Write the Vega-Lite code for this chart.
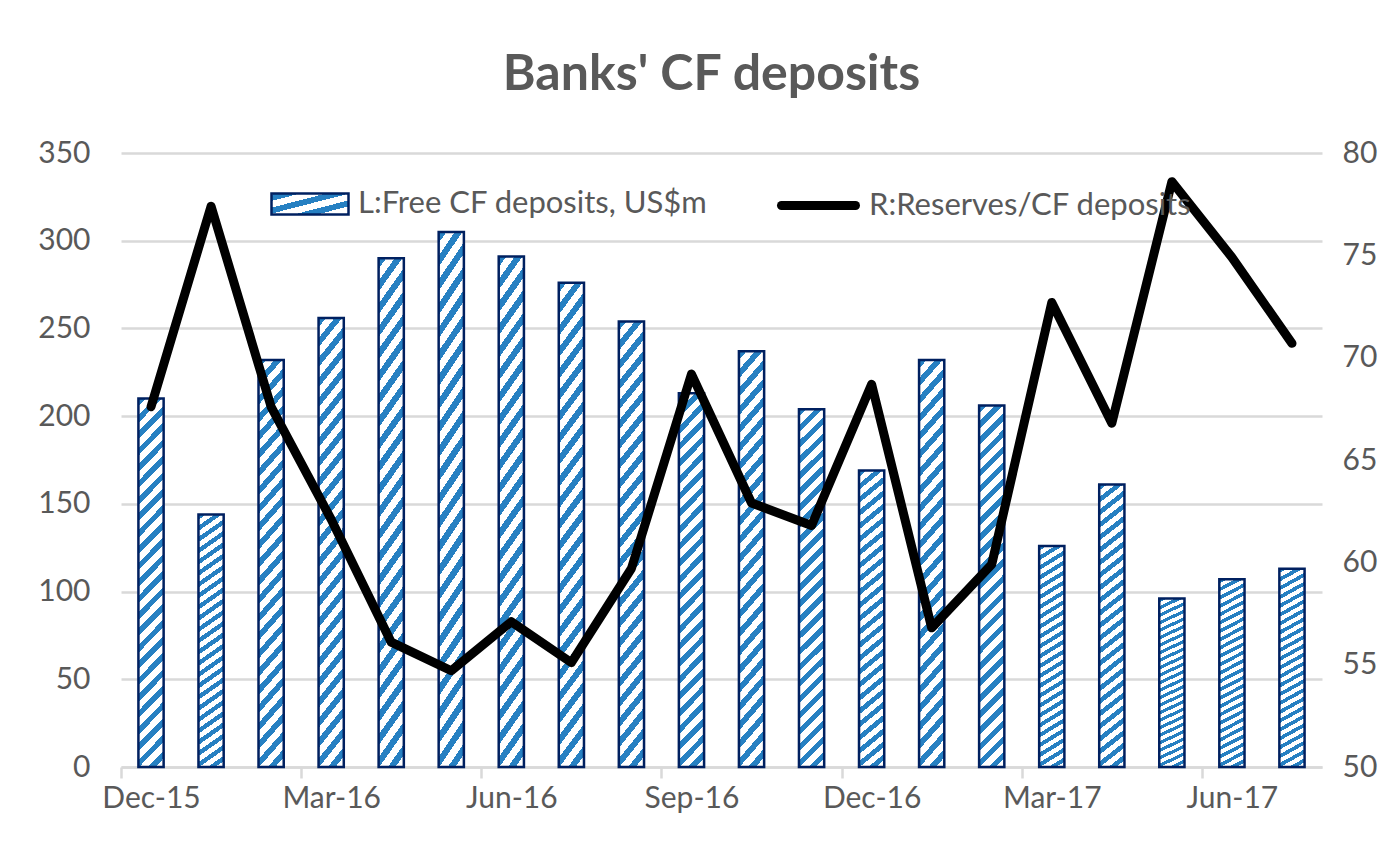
{
  "$schema": "https://vega.github.io/schema/vega-lite/v6.json",
  "width": 1201,
  "height": 614,
  "autosize": {"type": "none"},
  "padding": {"left": 121, "top": 153, "right": 75, "bottom": 76},
  "background": "white",
  "title": {
    "text": "Banks' CF deposits",
    "font": "Lato",
    "fontSize": 50,
    "fontWeight": "bold",
    "color": "#595959",
    "anchor": "middle",
    "offset": 38,
    "dx": -10
  },
  "config": {
    "view": {"stroke": null},
    "font": "Lato",
    "axis": {"labelFont": "Lato", "labelFontSize": 30, "labelColor": "#595959", "title": null}
  },
  "data": {
    "values": [
      {"month": "Dec-15", "free": 210, "ratio": 67.6},
      {"month": "Jan-16", "free": 144, "ratio": 77.4},
      {"month": "Feb-16", "free": 232, "ratio": 67.6},
      {"month": "Mar-16", "free": 256, "ratio": 62.1},
      {"month": "Apr-16", "free": 290, "ratio": 56.1},
      {"month": "May-16", "free": 305, "ratio": 54.7},
      {"month": "Jun-16", "free": 291, "ratio": 57.1},
      {"month": "Jul-16", "free": 276, "ratio": 55.1},
      {"month": "Aug-16", "free": 254, "ratio": 59.7},
      {"month": "Sep-16", "free": 213, "ratio": 69.2},
      {"month": "Oct-16", "free": 237, "ratio": 62.9},
      {"month": "Nov-16", "free": 204, "ratio": 61.8},
      {"month": "Dec-16", "free": 169, "ratio": 68.7},
      {"month": "Jan-17", "free": 232, "ratio": 56.8},
      {"month": "Feb-17", "free": 206, "ratio": 59.9},
      {"month": "Mar-17", "free": 126, "ratio": 72.7},
      {"month": "Apr-17", "free": 161, "ratio": 66.8},
      {"month": "May-17", "free": 96, "ratio": 78.6},
      {"month": "Jun-17", "free": 107, "ratio": 74.9},
      {"month": "Jul-17", "free": 113, "ratio": 70.7}
    ]
  },
  "layer": [
    {
      "mark": {
        "type": "bar",
        "strokeWidth": 2.5,
        "fill": {
          "gradient": "linear",
          "x1": 1, "y1": 1, "x2": 0.9255, "y2": -0.0648,
          "stops": [
            {"offset": 0, "color": "#ffffff"}, {"offset": 0.022, "color": "#ffffff"}, {"offset": 0.022, "color": "#2680C2"}, {"offset": 0.0417, "color": "#2680C2"},
            {"offset": 0.0417, "color": "#ffffff"}, {"offset": 0.0637, "color": "#ffffff"}, {"offset": 0.0637, "color": "#2680C2"}, {"offset": 0.0833, "color": "#2680C2"},
            {"offset": 0.0833, "color": "#ffffff"}, {"offset": 0.1053, "color": "#ffffff"}, {"offset": 0.1053, "color": "#2680C2"}, {"offset": 0.125, "color": "#2680C2"},
            {"offset": 0.125, "color": "#ffffff"}, {"offset": 0.147, "color": "#ffffff"}, {"offset": 0.147, "color": "#2680C2"}, {"offset": 0.1667, "color": "#2680C2"},
            {"offset": 0.1667, "color": "#ffffff"}, {"offset": 0.1887, "color": "#ffffff"}, {"offset": 0.1887, "color": "#2680C2"}, {"offset": 0.2083, "color": "#2680C2"},
            {"offset": 0.2083, "color": "#ffffff"}, {"offset": 0.2303, "color": "#ffffff"}, {"offset": 0.2303, "color": "#2680C2"}, {"offset": 0.25, "color": "#2680C2"},
            {"offset": 0.25, "color": "#ffffff"}, {"offset": 0.272, "color": "#ffffff"}, {"offset": 0.272, "color": "#2680C2"}, {"offset": 0.2917, "color": "#2680C2"},
            {"offset": 0.2917, "color": "#ffffff"}, {"offset": 0.3137, "color": "#ffffff"}, {"offset": 0.3137, "color": "#2680C2"}, {"offset": 0.3333, "color": "#2680C2"},
            {"offset": 0.3333, "color": "#ffffff"}, {"offset": 0.3553, "color": "#ffffff"}, {"offset": 0.3553, "color": "#2680C2"}, {"offset": 0.375, "color": "#2680C2"},
            {"offset": 0.375, "color": "#ffffff"}, {"offset": 0.397, "color": "#ffffff"}, {"offset": 0.397, "color": "#2680C2"}, {"offset": 0.4167, "color": "#2680C2"},
            {"offset": 0.4167, "color": "#ffffff"}, {"offset": 0.4387, "color": "#ffffff"}, {"offset": 0.4387, "color": "#2680C2"}, {"offset": 0.4583, "color": "#2680C2"},
            {"offset": 0.4583, "color": "#ffffff"}, {"offset": 0.4803, "color": "#ffffff"}, {"offset": 0.4803, "color": "#2680C2"}, {"offset": 0.5, "color": "#2680C2"},
            {"offset": 0.5, "color": "#ffffff"}, {"offset": 0.522, "color": "#ffffff"}, {"offset": 0.522, "color": "#2680C2"}, {"offset": 0.5417, "color": "#2680C2"},
            {"offset": 0.5417, "color": "#ffffff"}, {"offset": 0.5637, "color": "#ffffff"}, {"offset": 0.5637, "color": "#2680C2"}, {"offset": 0.5833, "color": "#2680C2"},
            {"offset": 0.5833, "color": "#ffffff"}, {"offset": 0.6053, "color": "#ffffff"}, {"offset": 0.6053, "color": "#2680C2"}, {"offset": 0.625, "color": "#2680C2"},
            {"offset": 0.625, "color": "#ffffff"}, {"offset": 0.647, "color": "#ffffff"}, {"offset": 0.647, "color": "#2680C2"}, {"offset": 0.6667, "color": "#2680C2"},
            {"offset": 0.6667, "color": "#ffffff"}, {"offset": 0.6887, "color": "#ffffff"}, {"offset": 0.6887, "color": "#2680C2"}, {"offset": 0.7083, "color": "#2680C2"},
            {"offset": 0.7083, "color": "#ffffff"}, {"offset": 0.7303, "color": "#ffffff"}, {"offset": 0.7303, "color": "#2680C2"}, {"offset": 0.75, "color": "#2680C2"},
            {"offset": 0.75, "color": "#ffffff"}, {"offset": 0.772, "color": "#ffffff"}, {"offset": 0.772, "color": "#2680C2"}, {"offset": 0.7917, "color": "#2680C2"},
            {"offset": 0.7917, "color": "#ffffff"}, {"offset": 0.8137, "color": "#ffffff"}, {"offset": 0.8137, "color": "#2680C2"}, {"offset": 0.8333, "color": "#2680C2"},
            {"offset": 0.8333, "color": "#ffffff"}, {"offset": 0.8553, "color": "#ffffff"}, {"offset": 0.8553, "color": "#2680C2"}, {"offset": 0.875, "color": "#2680C2"},
            {"offset": 0.875, "color": "#ffffff"}, {"offset": 0.897, "color": "#ffffff"}, {"offset": 0.897, "color": "#2680C2"}, {"offset": 0.9167, "color": "#2680C2"},
            {"offset": 0.9167, "color": "#ffffff"}, {"offset": 0.9387, "color": "#ffffff"}, {"offset": 0.9387, "color": "#2680C2"}, {"offset": 0.9583, "color": "#2680C2"},
            {"offset": 0.9583, "color": "#ffffff"}, {"offset": 0.9803, "color": "#ffffff"}, {"offset": 0.9803, "color": "#2680C2"}, {"offset": 1, "color": "#2680C2"}
          ]
        }
      },
      "encoding": {
        "x": {
          "field": "month",
          "type": "ordinal",
          "sort": null,
          "scale": {"paddingInner": 0.58, "paddingOuter": 0.29},
          "axis": {
            "title": null,
            "values": ["Dec-15", "Mar-16", "Jun-16", "Sep-16", "Dec-16", "Mar-17", "Jun-17"],
            "labelAngle": 0,
            "tickOffset": -30,
            "labelOffset": 30,
            "domainColor": "#D9D9D9",
            "domainWidth": 2.5,
            "tickColor": "#D9D9D9",
            "tickWidth": 2.5,
            "tickSize": 11,
            "labelPadding": 5,
            "grid": false
          }
        },
        "y": {
          "field": "free",
          "type": "quantitative",
          "scale": {"domain": [0, 350], "nice": false},
          "axis": {
            "title": null,
            "values": [0, 50, 100, 150, 200, 250, 300, 350],
            "grid": true,
            "gridColor": "#D9D9D9",
            "gridWidth": 2.5,
            "domain": false,
            "ticks": false,
            "labelPadding": 31
          }
        },
        "stroke": {
          "datum": "L:Free CF deposits, US$m",
          "scale": {"domain": ["L:Free CF deposits, US$m"], "range": ["#002060"]},
          "legend": {
            "orient": "none",
            "legendX": 149,
            "legendY": 11,
            "title": null,
            "padding": 0,
            "labelFont": "Lato",
            "labelFontSize": 31,
            "labelColor": "#595959",
            "labelLimit": 0,
            "labelOffset": 8,
            "symbolType": "M-1,-0.27H1V0.27H-1Z",
            "symbolSize": 5929,
            "symbolStrokeWidth": 2.5,
            "symbolStrokeColor": "#002060",
            "encode": {
              "symbols": {
                "update": {
                  "stroke": {"value": "#002060"},
                  "strokeWidth": {"value": 2.5},
                  "fill": {"value": {
                    "gradient": "linear",
                    "x1": 1, "y1": 1, "x2": -0.184, "y2": 0.677,
                    "stops": [
                      {"offset": 0, "color": "#ffffff"}, {"offset": 0.11, "color": "#ffffff"}, {"offset": 0.11, "color": "#2680C2"}, {"offset": 0.2, "color": "#2680C2"},
                      {"offset": 0.2, "color": "#ffffff"}, {"offset": 0.31, "color": "#ffffff"}, {"offset": 0.31, "color": "#2680C2"}, {"offset": 0.4, "color": "#2680C2"},
                      {"offset": 0.4, "color": "#ffffff"}, {"offset": 0.51, "color": "#ffffff"}, {"offset": 0.51, "color": "#2680C2"}, {"offset": 0.6, "color": "#2680C2"},
                      {"offset": 0.6, "color": "#ffffff"}, {"offset": 0.71, "color": "#ffffff"}, {"offset": 0.71, "color": "#2680C2"}, {"offset": 0.8, "color": "#2680C2"},
                      {"offset": 0.8, "color": "#ffffff"}, {"offset": 0.91, "color": "#ffffff"}, {"offset": 0.91, "color": "#2680C2"}, {"offset": 1, "color": "#2680C2"}
                    ]
                  }}
                }
              }
            }
          }
        }
      }
    },
    {
      "mark": {"type": "line", "strokeWidth": 9, "strokeJoin": "round", "strokeCap": "round"},
      "encoding": {
        "x": {"field": "month", "type": "ordinal", "sort": null},
        "y": {
          "field": "ratio",
          "type": "quantitative",
          "scale": {"domain": [50, 80], "nice": false},
          "axis": {
            "orient": "right",
            "title": null,
            "values": [50, 55, 60, 65, 70, 75, 80],
            "grid": false,
            "domain": false,
            "ticks": false,
            "labelPadding": 20
          }
        },
        "color": {
          "datum": "R:Reserves/CF deposits",
          "scale": {"domain": ["R:Reserves/CF deposits"], "range": ["#000000"]},
          "legend": {
            "orient": "none",
            "legendX": 656,
            "legendY": 11,
            "title": null,
            "padding": 0,
            "labelFont": "Lato",
            "labelFontSize": 31,
            "labelColor": "#595959",
            "labelLimit": 0,
            "labelOffset": 9,
            "symbolType": "stroke",
            "symbolSize": 5476,
            "symbolStrokeWidth": 9,
            "symbolStrokeColor": "#000000",
            "encode": {
              "symbols": {
                "update": {
                  "strokeCap": {"value": "round"}
                }
              }
            }
          }
        }
      }
    }
  ],
  "resolve": {"scale": {"y": "independent"}}
}
